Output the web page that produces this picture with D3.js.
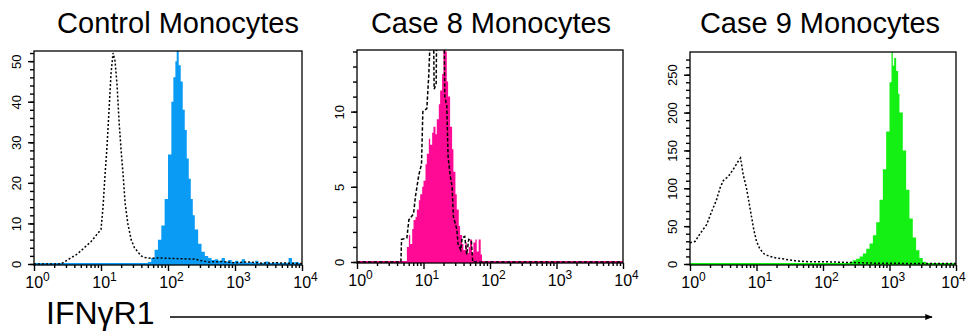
<!DOCTYPE html>
<html>
<head>
<meta charset="utf-8">
<script src="https://d3js.org/d3.v7.min.js"></script>
<style>
body { margin: 0; background: #fff; }
svg { display: block; }
</style>
</head>
<body>
<script>
// titles of the three panels
var titles = ["Control  Monocytes", "Case 8 Monocytes", "Case 9 Monocytes"];
var axisTitle = "IFNγR1";

// x axis: decades (log10 of fluorescence)
var decades = [0, 1, 2, 3, 4];

// y ticks per panel
var yMax = [52.5, 14.1, 280];
var yMajor = [[0, 10, 20, 30, 40, 50], [0, 5, 10], [0, 50, 100, 150, 200, 250]];
var yMinorStep = [2, 1, 10];

// histograms: [log10 channel, count]
// control: isotype (dashed) and IFNgR1 stain (filled)
var controlIso = [[0, 0], [0.4, 0], [0.45, 0.5], [0.55, 1.5], [0.65, 2.5], [0.75, 4], [0.85, 5.5], [0.95, 7.5],
    [1.0, 8.5], [1.03, 14], [1.06, 22], [1.09, 29], [1.12, 38], [1.15, 47], [1.18, 52], [1.21, 50], [1.24, 44],
    [1.27, 35], [1.3, 28], [1.33, 22], [1.36, 15], [1.4, 10], [1.45, 6], [1.5, 4], [1.55, 3], [1.6, 2], [1.65, 1.6],
    [1.75, 1.4], [1.85, 1.5], [2.0, 1.4], [2.2, 1.3], [2.4, 1.2], [2.5, 0.8], [2.6, 0.5], [2.8, 0.6], [3.0, 0.3],
    [3.2, 0.5], [3.4, 0.2], [3.6, 0.3], [3.8, 0.2], [4.0, 0.1]];
var controlStain = [[1.7, 0.5], [1.75, 1.5], [1.8, 3.5], [1.85, 6], [1.9, 9.5], [1.95, 16], [2.0, 27], [2.05, 40],
    [2.08, 46], [2.11, 50], [2.13, 52.5], [2.16, 49], [2.19, 45], [2.22, 38], [2.25, 33], [2.28, 26], [2.31, 21],
    [2.34, 16], [2.37, 12], [2.4, 8.5], [2.45, 5], [2.5, 3], [2.55, 2], [2.6, 1.5], [2.65, 1], [2.7, 1.2], [2.75, 0.8],
    [2.8, 1.5], [2.85, 0.6], [2.9, 1], [2.95, 0.5], [3.0, 0.8], [3.05, 0.4], [3.1, 1.2], [3.15, 0.3], [3.2, 0.5],
    [3.25, 0.2], [3.3, 0.8], [3.35, 0.2], [3.4, 0.3], [3.45, 0.6], [3.5, 0.2], [3.55, 0.3], [3.6, 0.4], [3.65, 0.1],
    [3.7, 0.2], [3.75, 0.3], [3.8, 1.5], [3.85, 0.4], [3.9, 0.5], [3.95, 0.2], [4.0, 0]];

// case 8
var case8Iso = [[0, 0], [0.66, 0], [0.67, 1.5], [0.75, 1.6], [0.78, 2.8], [0.85, 3.2], [0.88, 4.4], [0.93, 5.8],
    [0.97, 6.5], [0.99, 10], [1.05, 10.2], [1.08, 12.5], [1.11, 16], [1.15, 16], [1.16, 11.5], [1.19, 11.8],
    [1.2, 16], [1.31, 16], [1.32, 11], [1.35, 10.4], [1.37, 7], [1.4, 5.8], [1.43, 5], [1.45, 3], [1.5, 2.2],
    [1.52, 1.2], [1.56, 0.8], [1.58, 1.6], [1.62, 1.7], [1.65, 0.5], [1.68, 1.5], [1.72, 1.4], [1.74, 0], [4.0, 0]];
var case8Stain = [[0.7, 0], [0.75, 1.0], [0.78, 1.8], [0.8, 1.2], [0.83, 2.2], [0.85, 2.8], [0.88, 3.0], [0.9, 3.5],
    [0.93, 4.1], [0.95, 4.5], [0.98, 5.0], [1.0, 5.4], [1.03, 6.5], [1.05, 7.2], [1.08, 8.2], [1.1, 7.8], [1.13, 8.6],
    [1.15, 9.0], [1.18, 8.5], [1.2, 9.5], [1.23, 10.5], [1.25, 11.4], [1.28, 12.5], [1.3, 15], [1.33, 14], [1.35, 12],
    [1.37, 11], [1.4, 9], [1.43, 7.5], [1.45, 6], [1.48, 4.5], [1.5, 3.5], [1.53, 2.4], [1.55, 1.8], [1.58, 1.2],
    [1.6, 0.8], [1.63, 1.3], [1.65, 0.6], [1.68, 1.0], [1.7, 1.5], [1.73, 0.6], [1.75, 1.3], [1.78, 1.5], [1.8, 0.7],
    [1.83, 1.5], [1.86, 0.5], [1.88, 0]];

// case 9
var case9Iso = [[0, 28], [0.08, 30], [0.15, 40], [0.25, 52], [0.32, 68], [0.4, 85], [0.45, 100], [0.5, 110],
    [0.58, 116], [0.65, 125], [0.72, 135], [0.76, 140], [0.8, 118], [0.85, 100], [0.88, 85], [0.92, 65], [0.96, 45],
    [1.0, 30], [1.05, 20], [1.12, 13], [1.2, 10], [1.3, 8], [1.45, 6], [1.6, 4], [1.8, 3], [2.0, 3], [2.2, 2.5],
    [2.4, 2], [2.6, 1.5], [2.8, 1], [3.0, 1], [3.5, 0.5], [4.0, 0.5]];
var case9Stain = [[2.35, 0], [2.4, 3], [2.45, 5], [2.5, 7], [2.55, 10], [2.6, 14], [2.65, 20], [2.7, 27], [2.75, 38],
    [2.8, 55], [2.85, 85], [2.9, 125], [2.95, 175], [3.0, 240], [3.03, 280], [3.05, 262], [3.07, 272], [3.1, 255],
    [3.13, 225], [3.15, 200], [3.2, 150], [3.25, 98], [3.3, 60], [3.35, 35], [3.4, 18], [3.45, 8], [3.5, 3], [3.55, 0]];

var isoData = [controlIso, case8Iso, case9Iso];
var stainData = [controlStain, case8Stain, case9Stain];

// layout / style
var W = 966, H = 331;
var boxes = [
    {left: 34, top: 51, right: 302, bottom: 265, titleX: 178},
    {left: 357, top: 50, right: 623, bottom: 263, titleX: 491},
    {left: 690, top: 52, right: 956, bottom: 265, titleX: 820}
];
var fillColors = ["#0a9cf5", "#ff0a94", "#14f014"];
var dashes = ["2,2", "3.5,2", "2,2"];
var font = "'Liberation Sans', Arial, sans-serif";

var svg = d3.select("body").append("svg")
    .attr("width", W)
    .attr("height", H)
    .style("font-family", font);

function drawPanel(i) {
    var b = boxes[i];
    var x = d3.scaleLog().domain([1, 10000]).range([b.left, b.right]);
    var y = d3.scaleLinear().domain([0, yMax[i]]).range([b.bottom - 1, b.top]);
    var g = svg.append("g");

    g.append("clipPath").attr("id", "clip" + i)
        .append("rect")
        .attr("x", b.left).attr("y", b.top)
        .attr("width", b.right - b.left).attr("height", b.bottom - b.top);
    var plot = g.append("g").attr("clip-path", "url(#clip" + i + ")");

    // filled stain histogram
    var area = d3.area()
        .x(function(d) { return x(Math.pow(10, d[0])); })
        .y0(y(0))
        .y1(function(d) { return y(d[1]); })
        .curve(d3.curveStepAfter);
    plot.append("path")
        .datum(stainData[i])
        .attr("d", area)
        .attr("fill", fillColors[i]);
    // coloured baseline of the stain histogram
    plot.append("line")
        .attr("x1", x(1)).attr("x2", x(10000))
        .attr("y1", y(0)).attr("y2", y(0))
        .attr("stroke", fillColors[i])
        .attr("stroke-width", 2);

    // isotype control, dashed
    var line = d3.line()
        .x(function(d) { return x(Math.pow(10, d[0])); })
        .y(function(d) { return y(d[1]); });
    plot.append("path")
        .datum(isoData[i])
        .attr("d", line)
        .attr("fill", "none")
        .attr("stroke", "#000")
        .attr("stroke-width", 1.5)
        .attr("stroke-dasharray", dashes[i]);

    // frame
    g.append("rect")
        .attr("x", b.left).attr("y", b.top)
        .attr("width", b.right - b.left).attr("height", b.bottom - b.top)
        .attr("fill", "none").attr("stroke", "#000").attr("stroke-width", 1.3);

    // y axis: minor then major ticks
    var minor = d3.range(0, yMax[i], yMinorStep[i]);
    var yMinorAxis = g.append("g")
        .attr("transform", "translate(" + b.left + ",0)")
        .call(d3.axisLeft(y).tickValues(minor).tickSize(4).tickFormat(""));
    var yAxis = g.append("g")
        .attr("transform", "translate(" + b.left + ",0)")
        .call(d3.axisLeft(y).tickValues(yMajor[i]).tickSize(6));
    [yMinorAxis, yAxis].forEach(function(a) {
        a.select(".domain").remove();
        a.selectAll("line").attr("stroke-width", 1.4);
    });
    yAxis.attr("font-size", null);
    yAxis.selectAll("text")
        .attr("transform", "rotate(-90)")
        .attr("x", 0).attr("y", -13).attr("dy", 0)
        .attr("text-anchor", "middle")
        .attr("font-size", 13)
        .style("font-family", font);

    // x axis: log decades with minor ticks 2..9
    var xMinor = [];
    decades.slice(0, -1).forEach(function(e) {
        for (var k = 2; k < 10; k++) xMinor.push(k * Math.pow(10, e));
    });
    var xMinorAxis = g.append("g")
        .attr("transform", "translate(0," + b.bottom + ")")
        .call(d3.axisBottom(x).tickValues(xMinor).tickSize(3).tickFormat(""));
    var xAxis = g.append("g")
        .attr("transform", "translate(0," + b.bottom + ")")
        .call(d3.axisBottom(x).tickValues(decades.map(function(e) { return Math.pow(10, e); }))
            .tickSize(6).tickFormat(""));
    [xMinorAxis, xAxis].forEach(function(a) {
        a.select(".domain").remove();
        a.selectAll("line").attr("stroke-width", 1.4);
    });
    xAxis.attr("font-size", null);
    xAxis.selectAll(".tick").each(function(d, j) {
        // keep the last label of the right panel inside the page
        var shift = (x(d) + 16 > W) ? W - 16 - x(d) : 0;
        var t = d3.select(this).append("text")
            .attr("y", 23)
            .attr("x", 3 + shift)
            .attr("fill", "#000")
            .attr("text-anchor", "middle")
            .attr("font-size", 16)
            .style("font-family", font);
        t.append("tspan").text("10");
        t.append("tspan").attr("dy", -7).attr("font-size", 12).text(decades[j]);
    });

    // panel title
    svg.append("text")
        .attr("x", b.titleX)
        .attr("y", 33)
        .attr("text-anchor", "middle")
        .style("font-size", "29px")
        .text(titles[i]);
}

for (var i = 0; i < 3; i++) drawPanel(i);

// bottom axis title with arrow
svg.append("defs").append("marker")
    .attr("id", "arrow")
    .attr("viewBox", "0 0 10 10")
    .attr("refX", 9).attr("refY", 5)
    .attr("markerWidth", 7).attr("markerHeight", 5)
    .attr("orient", "auto")
    .append("path").attr("d", "M0,1 L10,5 L0,9 Z").attr("fill", "#000");
svg.append("text")
    .attr("x", 46).attr("y", 324)
    .style("font-size", "32px")
    .text(axisTitle);
svg.append("line")
    .attr("x1", 170).attr("x2", 932)
    .attr("y1", 317).attr("y2", 317)
    .attr("stroke", "#000").attr("stroke-width", 1.5)
    .attr("marker-end", "url(#arrow)");
</script>
</body>
</html>
